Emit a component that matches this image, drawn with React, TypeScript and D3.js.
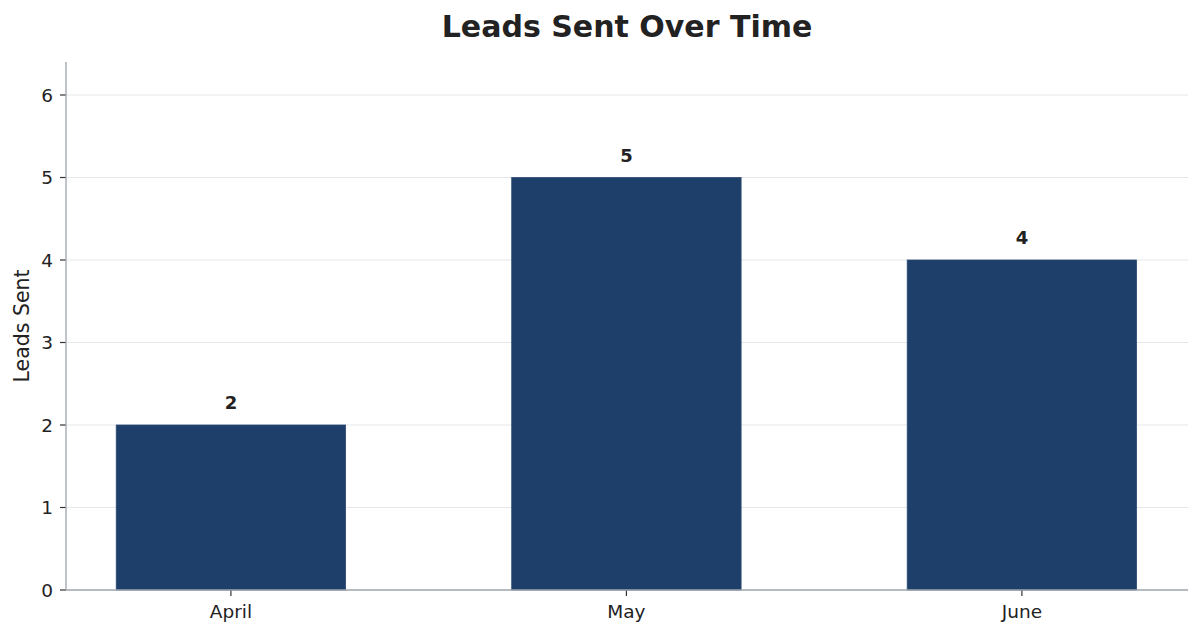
import React from "react";
import * as d3 from "d3";

const categories = ["April", "May", "June"];
const values = [2, 5, 4];
const yTicks = [0, 1, 2, 3, 4, 5, 6];

const W = 1200;
const H = 634;
const left = 66;
const right = 1188;
const top = 62;
const bottom = 590;
const font = "DejaVu Sans, sans-serif";

export default function App() {
  const x = d3.scaleLinear().domain([-0.417, 2.42]).range([left, right]);
  const y = d3.scaleLinear().domain([0, 6.4]).range([bottom, top]);
  const bw = 0.58;
  const axisColor = "#9ea4ad";
  return (
    <svg width={W} height={H} style={{ position: "absolute", left: 0, top: 0, background: "#fff" }} fontFamily={font}>
      {yTicks.map((t) => (
        <g key={t}>
          {t > 0 && <line x1={left} x2={right} y1={y(t)} y2={y(t)} stroke="#e5e7eb" strokeWidth={1.2} />}
          <line x1={left - 6} x2={left} y1={y(t)} y2={y(t)} stroke="#333" strokeWidth={1.2} />
          <text x={left - 13} y={y(t)} dy="0.36em" textAnchor="end" fontSize={18.5} fill="#222">{t}</text>
        </g>
      ))}
      {values.map((v, i) => (
        <g key={categories[i]}>
          <rect x={x(i - bw / 2)} y={y(v)} width={x(i + bw / 2) - x(i - bw / 2)} height={y(0) - y(v)} fill="#1f3f6b" stroke="#2c4a75" strokeWidth={0.8} />
          <text x={x(i)} y={y(v) - 16} textAnchor="middle" fontSize={18} fontWeight="bold" fill="#222">{v}</text>
          <line x1={x(i)} x2={x(i)} y1={bottom} y2={bottom + 6} stroke="#333" strokeWidth={1.2} />
          <text x={x(i)} y={bottom + 28} textAnchor="middle" fontSize={18.5} fill="#222">{categories[i]}</text>
        </g>
      ))}
      <line x1={left} x2={left} y1={top} y2={bottom} stroke={axisColor} strokeWidth={1.3} />
      <line x1={left} x2={right} y1={bottom} y2={bottom} stroke={axisColor} strokeWidth={1.3} />
      <text x={(left + right) / 2} y={37} textAnchor="middle" fontSize={30} fontWeight="bold" fill="#222">Leads Sent Over Time</text>
      <text transform={`translate(29, ${(top + bottom) / 2}) rotate(-90)`} textAnchor="middle" fontSize={20.5} fill="#222">Leads Sent</text>
    </svg>
  );
}
